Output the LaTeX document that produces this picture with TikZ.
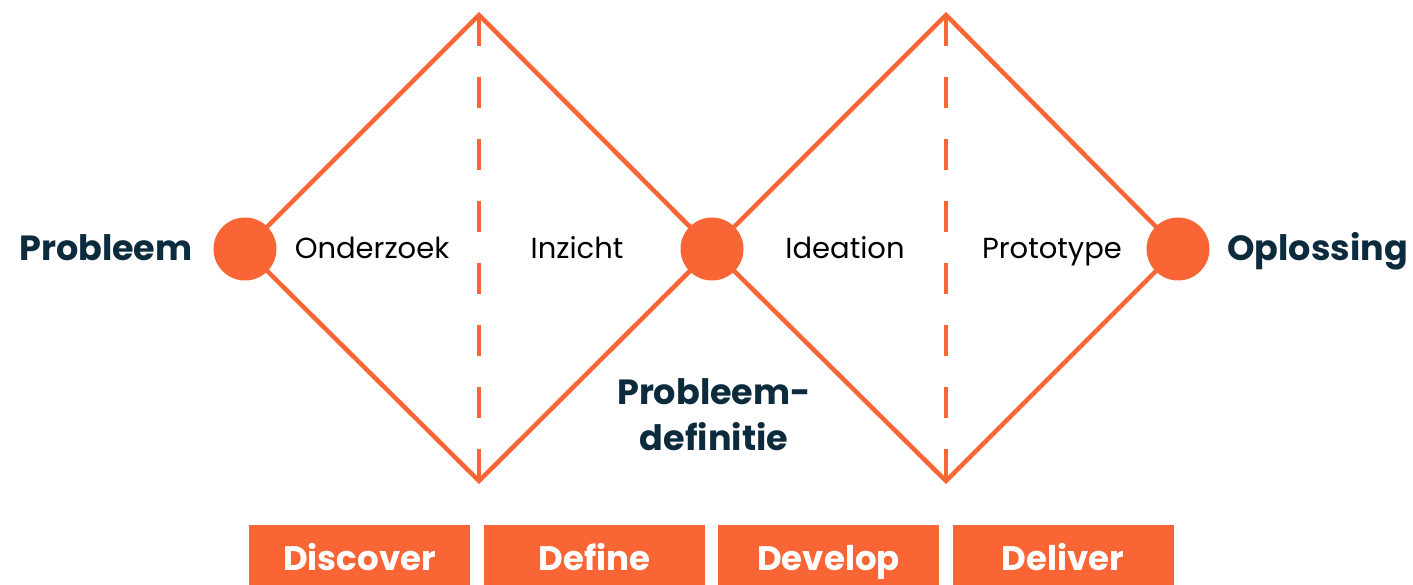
\documentclass[tikz,border=0pt]{standalone}
\usepackage{fontspec}
\setmainfont{Poppins}
\usepackage{tikz}

\definecolor{oranje}{HTML}{F96535}
\definecolor{navy}{HTML}{0C2B3D}

\tikzset{
  lijn/.style={draw=oranje, line width=4.5pt},
  stip/.style={circle, fill=oranje, minimum size=63pt, inner sep=0pt},
  fase/.style={fill=oranje, minimum width=221pt, minimum height=60pt,
    inner sep=0pt, text height=30pt, text depth=0pt, text=white,
    font=\fontsize{34}{34}\selectfont\bfseries},
  kop/.style={text=navy, font=\fontsize{35}{46}\selectfont\bfseries},
  stap/.style={text=black, font=\fontsize{29}{29}\selectfont},
}

\begin{document}
\begin{tikzpicture}[x=1pt,y=-1pt]
  \useasboundingbox (0,0) rectangle (1413,585);
  % corner points of the two diamonds
  \coordinate (t1) at (479,15); \coordinate (b1) at (479,481);
  \coordinate (t2) at (946,15); \coordinate (b2) at (946,481);
  \coordinate (m1) at (245,249); \coordinate (m2) at (712,249);
  \coordinate (m3) at (1178,249);
  \draw[lijn] (m1) -- (t1) -- (m2); \draw[lijn] (m1) -- (b1) -- (m2);
  \draw[lijn] (m2) -- (t2) -- (m3); \draw[lijn] (m2) -- (b2) -- (m3);
  \draw[lijn, dash pattern=on 31pt off 31pt] (t1) -- (b1);
  \draw[lijn, dash pattern=on 31pt off 31pt] (t2) -- (b2);
  \node[stip] (p1) at (m1) {}; \node[stip] (p2) at (m2) {};
  \node[stip] (p3) at (m3) {};
  % texts
  \node[kop, anchor=base west, inner sep=0pt] (begin) at (19,261) {Probleem};
  \node[kop, anchor=base east, inner sep=0pt] (eind) at (1408,261) {Oplossing};
  \node[kop, align=center, inner sep=0pt] (def) at (714,415)
    {Probleem-\\definitie};
  \node[stap, anchor=base] (s1) at (372,259) {Onderzoek};
  \node[stap, anchor=base] (s2) at (577,259) {Inzicht};
  \node[stap, anchor=base] (s3) at (845,259) {Ideation};
  \node[stap, anchor=base] (s4) at (1052,259) {Prototype};
  % the four phases
  \node[fase] (f1) at (359.5,555) {Discover};
  \node[fase] (f2) at (594.5,555) {Define};
  \node[fase] (f3) at (828.5,555) {Develop};
  \node[fase] (f4) at (1063,555) {Deliver};
\end{tikzpicture}
\end{document}
